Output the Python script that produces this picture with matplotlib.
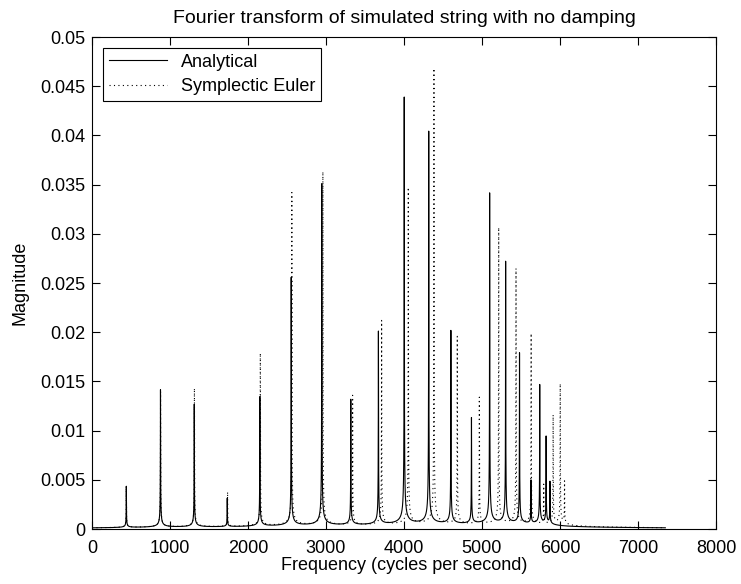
import numpy as np
import matplotlib
matplotlib.use('Agg')
import matplotlib.pyplot as plt

# peak positions (Hz) and heights
freq_analytical = [440, 878, 1311, 1734, 2152, 2554, 2946, 3318, 3672, 4003,
                   4317, 4601, 4865, 5098, 5303, 5481, 5628, 5740, 5822, 5871]
mag_analytical = [0.0042, 0.0140, 0.0125, 0.0029, 0.0132, 0.0253, 0.0348, 0.0128, 0.0197, 0.0435,
                  0.0400, 0.0197, 0.0108, 0.0337, 0.0267, 0.0174, 0.0044, 0.0142, 0.0089, 0.0043]

freq_euler = [440, 879, 1313, 1738, 2158, 2562, 2960, 3341, 3713, 4055,
              4384, 4683, 4966, 5214, 5436, 5630, 5791, 5912, 6003, 6058]
mag_euler = [0.0042, 0.0138, 0.0141, 0.0035, 0.0176, 0.0339, 0.0360, 0.0132, 0.0208, 0.0343,
             0.0464, 0.0191, 0.0129, 0.0302, 0.0260, 0.0194, 0.0040, 0.0111, 0.0143, 0.0043]

xticks = [0, 1000, 2000, 3000, 4000, 5000, 6000, 7000, 8000]
yticks = [0, 0.005, 0.01, 0.015, 0.02, 0.025, 0.03, 0.035, 0.04, 0.045, 0.05]
ytick_labels = ['0', '0.005', '0.01', '0.015', '0.02', '0.025', '0.03', '0.035', '0.04', '0.045', '0.05']

f_end = 7350   # where the spectrum stops
width = 1.0    # leakage width of each peak (Hz)


# builds a spectrum line from the list of peaks
def spectrum(freqs, mags):
    f = np.union1d(np.arange(0, f_end, 0.5), freqs)
    m = np.zeros_like(f)
    for f0, a in zip(freqs, mags):
        m += a / np.sqrt(1 + ((f - f0) / width) ** 2)
    return f, m


plt.rcParams['font.family'] = ['Liberation Sans', 'DejaVu Sans']
plt.rcParams['font.size'] = 13

fig = plt.figure(figsize=(7.41, 5.84), dpi=100)
ax = fig.add_axes([92 / 741, 55 / 584, 624 / 741, 492 / 584])

x, y = spectrum(freq_analytical, mag_analytical)
ax.plot(x, y, color='black', lw=0.8, label='Analytical')
x, y = spectrum(freq_euler, mag_euler)
ax.plot(x, y, color='black', lw=0.8, linestyle=(0, (1, 3)), label='Symplectic Euler')

ax.set_xlim(0, 8000)
ax.set_ylim(0, 0.05)
ax.set_xticks(xticks)
ax.set_yticks(yticks)
ax.set_yticklabels(ytick_labels)
ax.tick_params(direction='in', length=6, top=True, right=True, width=0.8)
ax.tick_params(axis='x', pad=8)
ax.tick_params(axis='y', pad=5)
for s in ax.spines.values():
    s.set_linewidth(0.8)

ax.set_title('Fourier transform of simulated string with no damping', fontsize=14, pad=10)
ax.set_xlabel('Frequency (cycles per second)', labelpad=0)
ax.set_ylabel('Magnitude', labelpad=8)

leg = ax.legend(loc='upper left', fancybox=False, framealpha=1, edgecolor='black',
                handlelength=3.2, borderaxespad=0.6, borderpad=0.33, labelspacing=0.39)
leg.get_frame().set_linewidth(0.8)

fig.savefig('out.png', dpi=100)
